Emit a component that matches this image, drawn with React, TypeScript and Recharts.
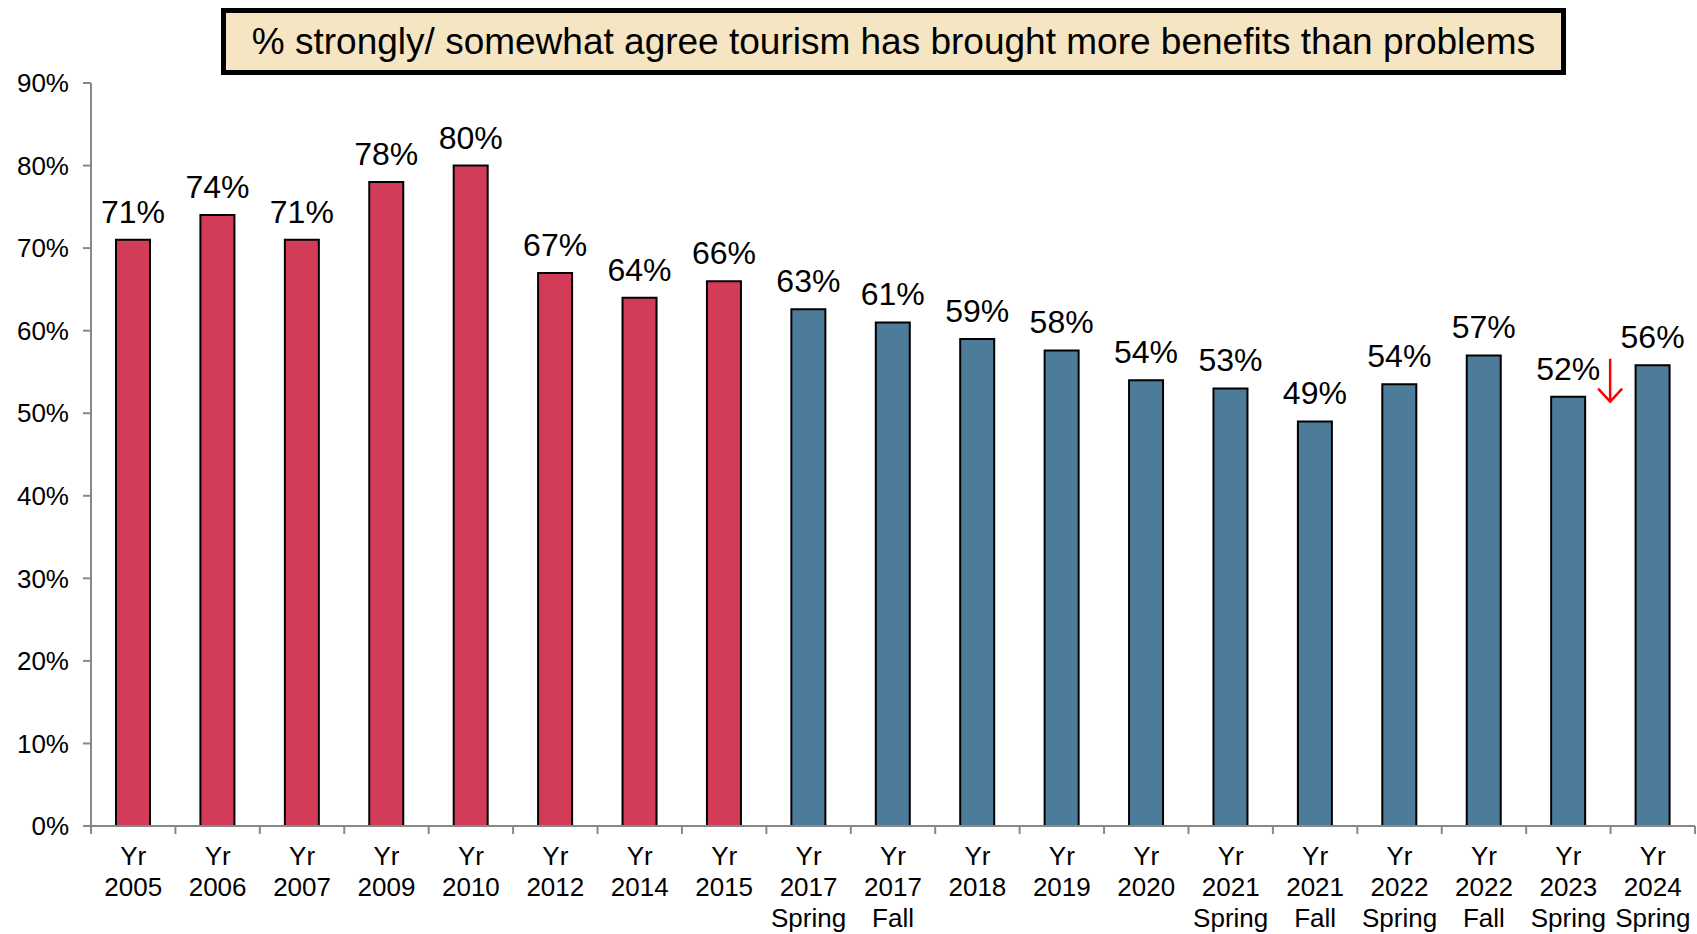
import React from 'react';
import { BarChart, Bar, XAxis, YAxis, Cell, LabelList } from 'recharts';

const categories = [
  'Yr\n2005', 'Yr\n2006', 'Yr\n2007', 'Yr\n2009', 'Yr\n2010', 'Yr\n2012', 'Yr\n2014', 'Yr\n2015',
  'Yr\n2017\nSpring', 'Yr\n2017\nFall', 'Yr\n2018', 'Yr\n2019', 'Yr\n2020', 'Yr\n2021\nSpring',
  'Yr\n2021\nFall', 'Yr\n2022\nSpring', 'Yr\n2022\nFall', 'Yr\n2023\nSpring', 'Yr\n2024\nSpring',
];
const values = [71, 74, 71, 78, 80, 67, 64, 66, 62.6, 61, 59, 57.6, 54, 53, 49, 53.5, 57, 52, 55.8];
const valueLabels = [
  '71%', '74%', '71%', '78%', '80%', '67%', '64%', '66%', '63%', '61%', '59%', '58%', '54%', '53%',
  '49%', '54%', '57%', '52%', '56%',
];
// first 8 waves were the older survey method
const olderWaves = 8;
const declineMarker = 'Yr\n2023\nSpring';
const yTicks = [0, 10, 20, 30, 40, 50, 60, 70, 80, 90];
const title = '% strongly/ somewhat agree tourism has brought more benefits than problems';

const RED = '#D23C59';
const BLUE = '#4D7B9A';
const FONT = '"Liberation Sans", Arial, sans-serif';

const W = 1697;
const H = 934;
const M = { top: 83, right: 2, left: 0, bottom: 0 };
const Y_W = 91;
const X_H = 108;
const bandW = (W - M.left - M.right - Y_W) / categories.length;

const data = categories.map((c, i) => ({ name: c, value: values[i], label: valueLabels[i] }));

function XTick(props: any) {
  const { x, y, payload, index } = props;
  const lines = String(payload.value).split('\n');
  return (
    <g>
      <line x1={x - bandW / 2} x2={x - bandW / 2} y1={y} y2={y + 8} stroke="#888" strokeWidth={2} />
      {index === categories.length - 1 && (
        <line x1={x + bandW / 2} x2={x + bandW / 2} y1={y} y2={y + 8} stroke="#888" strokeWidth={2} />
      )}
      {lines.map((l, k) => (
        <text key={k} x={x} y={y + 39 + k * 31} textAnchor="middle" fontSize={26} fill="#000" fontFamily={FONT}>
          {l}
        </text>
      ))}
    </g>
  );
}

function ValueLabel(props: any) {
  const { x, y, width, index } = props;
  const cx = x + width / 2;
  return (
    <g>
      <text x={cx} y={y - 17} textAnchor="middle" fontSize={32} fill="#000" fontFamily={FONT}>
        {valueLabels[index]}
      </text>
      {categories[index] === declineMarker && (
        <g stroke="#FF0000" strokeWidth={2.5} fill="none">
          <line x1={x + width + 25} x2={x + width + 25} y1={y - 38} y2={y + 5} />
          <polyline points={`${x + width + 13},${y - 8} ${x + width + 25},${y + 5} ${x + width + 37},${y - 8}`} />
        </g>
      )}
    </g>
  );
}

export default function App() {
  return (
    <div style={{ position: 'absolute', left: 0, top: 0, width: W, height: H, background: '#fff', fontFamily: FONT }}>
      <BarChart width={W} height={H} data={data} margin={M} barCategoryGap="0%">
        <XAxis
          dataKey="name"
          height={X_H}
          interval={0}
          axisLine={{ stroke: '#888', strokeWidth: 2 }}
          tickLine={false}
          tickSize={0}
          tickMargin={0}
          tick={<XTick />}
        />
        <YAxis
          width={Y_W}
          domain={[0, 90]}
          ticks={yTicks}
          interval={0}
          tickFormatter={(v: number) => `${v}%`}
          axisLine={{ stroke: '#888', strokeWidth: 2 }}
          tickLine={{ stroke: '#888', strokeWidth: 2 }}
          tickSize={8}
          tickMargin={14}
          tick={{ fontSize: 26, fill: '#000', fontFamily: FONT }}
        />
        <Bar dataKey="value" barSize={34} stroke="#000" strokeWidth={2} isAnimationActive={false}>
          {data.map((d, i) => (
            <Cell key={d.name} fill={i < olderWaves ? RED : BLUE} />
          ))}
          <LabelList dataKey="label" content={<ValueLabel />} />
        </Bar>
      </BarChart>
      <div
        style={{
          position: 'absolute',
          left: 221,
          top: 8,
          width: 1345,
          height: 67,
          boxSizing: 'border-box',
          border: '5px solid #000',
          background: '#F5E5C3',
          display: 'flex',
          alignItems: 'center',
          justifyContent: 'center',
          fontSize: 37,
          color: '#000',
          fontFamily: FONT,
          whiteSpace: 'nowrap',
        }}
      >
        {title}
      </div>
    </div>
  );
}
